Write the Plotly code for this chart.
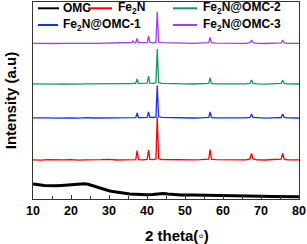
import plotly.graph_objects as go

# ---- data (offset-stacked intensities, a.u.) ----
x_omc = [10, 11, 12, 13, 14.5, 16, 17.5, 19, 20.5, 22, 22.4, 23.5, 24.5, 25.5, 26.8, 28, 29, 30, 31, 32, 33,
         34, 35.5, 37, 38.5, 40, 41.5, 43, 44.2, 45.5, 47, 49, 52, 55, 58, 61, 64, 67, 70, 73, 76, 78.4, 80]
y_omc = [15.0, 14.2, 14.0, 13.4, 13.0, 13.2, 13.6, 14.0, 14.6, 15.2, 15.4, 15.2, 14.8, 13.6, 11.5, 10.2, 9.2, 8.3, 7.4, 6.8, 6.1,
         5.6, 5.0, 4.7, 4.4, 4.3, 4.6, 5.2, 5.6, 5.0, 4.5, 4.1, 3.9, 3.6, 3.3, 3.1, 2.9, 2.8, 2.7, 2.6, 2.4, 2.3, 2.3]

x_c = [10, 12, 14, 16, 18, 20, 22, 24, 26, 28, 30, 32, 34, 35.5, 36.0, 36.3, 36.6, 37.05, 37.4, 37.75, 39.0, 40.05, 40.4, 40.75,
       41.6, 42.35, 42.7, 43.05, 44, 46, 48, 50, 52, 54, 55.5, 56.25, 56.6, 56.95, 58, 60, 62, 64, 66, 67.1, 67.5, 67.9,
       69, 71, 73, 74.7, 75.3, 75.7, 76.1, 77, 78.5, 80]

y_fe2n = [39.2, 38.8, 39.3, 38.9, 39.1, 39.4, 38.9, 39.2, 39.0, 39.3, 39.7, 39.0, 39.2, 39.1, 39.2, 39.4, 39.2, 39.3, 48.5, 39.4, 39.2, 39.5, 49.0, 39.6,
          39.4, 40.0, 82.0, 40.2, 39.5, 39.3, 39.2, 39.4, 39.1, 39.3, 39.2, 39.8, 49.5, 39.8, 39.3, 39.1, 39.3, 39.0, 39.2, 40.0, 45.5, 40.0,
          39.2, 39.0, 39.3, 39.2, 39.8, 45.5, 39.8, 39.2, 39.0, 39.1]

y_omc1 = [81.2, 80.8, 81.1, 80.9, 81.2, 81.0, 80.8, 81.3, 81.0, 81.2, 80.9, 81.1, 81.3, 81.2, 81.6, 81.9, 81.5, 81.4, 86.0, 81.5, 81.3, 81.6, 87.0, 81.7,
          81.5, 82.0, 113.5, 82.2, 81.6, 81.3, 81.1, 81.3, 81.0, 81.2, 81.1, 81.6, 87.0, 81.6, 81.2, 81.0, 81.2, 80.9, 81.1, 81.6, 85.0, 81.6,
          81.1, 80.9, 81.2, 81.0, 81.5, 85.0, 81.5, 81.1, 80.9, 81.0]

y_omc2 = [115.1, 114.8, 115.2, 114.9, 115.0, 115.3, 114.9, 115.1, 115.0, 115.2, 114.9, 115.1, 115.3, 115.4, 115.8, 116.2, 115.7, 115.6, 120.0, 115.7, 115.4, 115.8, 123.0, 115.9,
          115.6, 116.2, 150.0, 116.3, 115.7, 115.3, 115.1, 115.2, 115.0, 115.2, 115.1, 115.7, 121.0, 115.7, 115.2, 115.0, 115.2, 114.9, 115.1, 115.7, 119.0, 115.7,
          115.1, 114.9, 115.2, 115.0, 115.6, 119.0, 115.6, 115.1, 114.9, 115.0]

y_omc3 = [155.7, 155.4, 155.8, 155.5, 155.7, 155.9, 155.5, 155.7, 155.6, 155.8, 155.5, 155.7, 155.9, 156.0, 156.5, 158.0, 156.4, 156.2, 160.5, 156.3, 156.0, 156.4, 163.0, 156.5,
          156.2, 156.8, 187.3, 156.9, 156.3, 155.9, 155.7, 155.8, 155.6, 155.8, 155.7, 156.3, 161.5, 156.3, 155.8, 155.6, 155.8, 155.5, 155.7, 156.3, 159.0, 156.3,
          155.7, 155.5, 155.8, 155.6, 156.2, 159.0, 156.2, 155.7, 155.5, 155.6]

names = ["OMC", "Fe<sub>2</sub>N", "Fe<sub>2</sub>N@OMC-1", "Fe<sub>2</sub>N@OMC-2", "Fe<sub>2</sub>N@OMC-3"]
colors = ["#000000", "#ff0000", "#1a2cff", "#129a62", "#a23cff"]

x_ticks = [10, 20, 30, 40, 50, 60, 70, 80]
x_title = "2 theta(◦)"
y_title = "Intensity (a.u)"

FONT = "Liberation Sans, Arial, sans-serif"

fig = go.Figure()
series = [(x_omc, y_omc), (x_c, y_fe2n), (x_c, y_omc1), (x_c, y_omc2), (x_c, y_omc3)]
for i, (xs, ys) in enumerate(series):
    fig.add_trace(go.Scatter(x=xs, y=ys, mode="lines", name=names[i],
                             line=dict(color=colors[i], width=3 if i == 0 else 1.3),
                             showlegend=False))

W, H = 307, 244
L, R, T, B = 33, 8, 2, 45
pw, ph = W - L - R, H - T - B

def px(xp):
    return (xp - L) / pw

def py(yp):
    return (H - B - yp) / ph

# legend (lines + labels), positions in pixels
legend_items = [
    (0, 38, 59, 61, 8.3),
    (1, 88, 112, 116, 8.3),
    (3, 173, 197, 201, 8.3),
    (2, 38, 58, 61, 25),
    (4, 173, 197, 201, 25),
]
shapes = []
annotations = []
for idx, x0, x1, xt, yc in legend_items:
    shapes.append(dict(type="line", xref="paper", yref="paper", x0=px(x0), x1=px(x1), y0=py(yc), y1=py(yc),
                       line=dict(color=colors[idx], width=2)))
    annotations.append(dict(xref="paper", yref="paper", x=px(xt), y=py(yc), xanchor="left", yanchor="middle",
                            text="<b>" + names[idx] + "</b>", showarrow=False,
                            font=dict(family=FONT, size=12, color="#000")))

# x-axis title placed as annotation (centered slightly right of plot center as in reference)
annotations.append(dict(xref="paper", yref="paper", x=px(177), y=py(235), xanchor="center", yanchor="middle",
                        text="<b>" + x_title + "</b>", showarrow=False,
                        font=dict(family=FONT, size=15, color="#000")))

fig.update_layout(
    width=W, height=H,
    margin=dict(l=L, r=R, t=T, b=B, autoexpand=False),
    paper_bgcolor="white", plot_bgcolor="white",
    shapes=shapes, annotations=annotations,
    font=dict(family=FONT, color="#000"),
)
fig.update_xaxes(range=[10, 80], tickvals=x_ticks, ticktext=["<b>%d</b>" % v for v in x_ticks],
                 ticks="inside", ticklen=4, tickwidth=1, tickcolor="#333", automargin=False,
                 minor=dict(ticks="inside", ticklen=2.5, dtick=5, tickcolor="#333"),
                 showline=True, linecolor="#333", linewidth=1.2, mirror=True, showgrid=False, zeroline=False,
                 tickfont=dict(family=FONT, size=12.5, color="#000"))
fig.update_yaxes(range=[0, 197], showticklabels=False, ticks="", showline=True, linecolor="#333", linewidth=1.2,
                 mirror=True, showgrid=False, zeroline=False, automargin=False,
                 title=dict(text="<b>" + y_title + "</b>", font=dict(family=FONT, size=15, color="#000"), standoff=11))

fig.write_html("out.html", config={"displayModeBar": False},
               post_script="document.body.style.margin='0';document.body.style.padding='0';")
